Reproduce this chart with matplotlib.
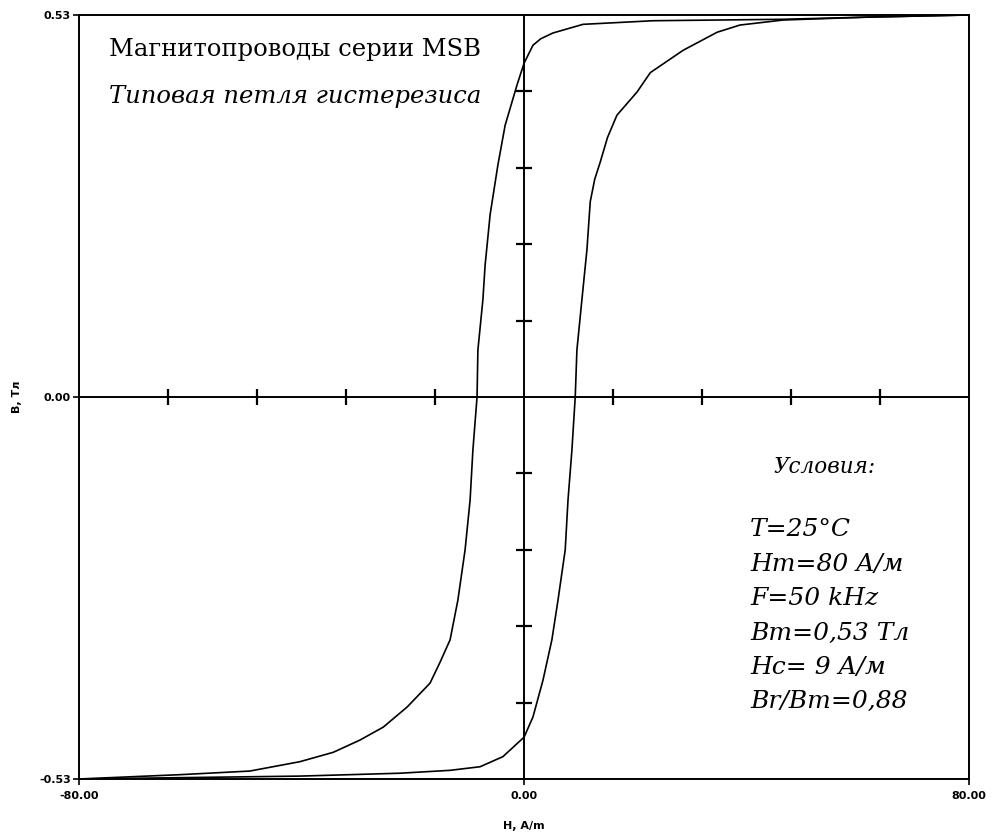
import numpy as np
import matplotlib
matplotlib.use("Agg")
import matplotlib.pyplot as plt

# --- data ---
# descending branch (from +Hm down to -Hm)
h_down = [80.0, 61.7, 46.6, 23.2, 10.6, 5.2, 3.0, 1.6, 0.0, -1.26, -3.4, -4.7, -6.1, -7.0, -7.4,
          -8.3, -8.45, -9.2, -9.7, -10.6, -11.9, -13.3, -15.1, -16.9, -21.0, -25.3, -29.5,
          -34.3, -40.3, -49.3, -61.8, -80.0]
b_down = [0.530, 0.527, 0.524, 0.522, 0.517, 0.505, 0.497, 0.488, 0.463, 0.433, 0.377, 0.322,
          0.253, 0.183, 0.135, 0.065, 0.0, -0.074, -0.143, -0.212, -0.282, -0.337, -0.368,
          -0.397, -0.430, -0.458, -0.476, -0.493, -0.506, -0.519, -0.524, -0.530]
# ascending branch (from -Hm up to +Hm)
h_up = [-80.0, -40.3, -22.3, -13.3, -7.9, -3.8, 0.0, 1.6, 3.4, 5.0, 6.1, 7.4, 7.9, 8.6, 9.2,
        9.5, 10.4, 11.3, 11.9, 12.7, 13.7, 15.0, 16.7, 20.3, 22.7, 28.6, 34.7, 38.8, 46.6,
        61.7, 80.0]
b_up = [-0.530, -0.526, -0.522, -0.518, -0.513, -0.499, -0.472, -0.444, -0.393, -0.337,
        -0.282, -0.212, -0.143, -0.074, 0.0, 0.065, 0.135, 0.204, 0.271, 0.302, 0.326, 0.360,
        0.391, 0.423, 0.450, 0.481, 0.506, 0.516, 0.523, 0.527, 0.530]

h_ticks = [-64, -48, -32, -16, 16, 32, 48, 64]
b_ticks = [-0.424, -0.318, -0.212, -0.106, 0.106, 0.212, 0.318, 0.424]
x_labels = ["-80.00", "0.00", "80.00"]
y_labels = ["-0.53", "0.00", "0.53"]

title1 = "Магнитопроводы серии MSB"
title2 = "Типовая петля гистерезиса"
cond_head = "Условия:"
cond_lines = ["T=25°C", "Hm=80 A/м", "F=50 kHz", "Bm=0,53 Тл", "Hc= 9 A/м", "Br/Bm=0,88"]

# --- figure ---
fig = plt.figure(figsize=(9.93, 8.36), dpi=100)
ax = fig.add_axes([0.0796, 0.0682, 0.8963, 0.9139])
ax.set_xlim(-80, 80)
ax.set_ylim(-0.53, 0.53)

for s in ax.spines.values():
    s.set_linewidth(1.4)

ax.axhline(0, color="k", lw=1.4)
ax.axvline(0, color="k", lw=1.4)

# ticks crossing the centre axes
ax.plot(h_ticks, [0] * len(h_ticks), ls="none", marker="|", ms=12, mew=1.6, color="k")
ax.plot([0] * len(b_ticks), b_ticks, ls="none", marker="_", ms=12, mew=1.6, color="k")

ax.plot(h_down, b_down, color="k", lw=1.2)
ax.plot(h_up, b_up, color="k", lw=1.2)

lab_font = ["Liberation Sans Narrow", "DejaVu Sans"]
ax.set_xticks([-80, 0, 80])
ax.set_xticklabels(x_labels, fontfamily=lab_font, fontweight="bold", fontsize=8)
ax.set_yticks([-0.53, 0, 0.53])
ax.set_yticklabels(y_labels, fontfamily=lab_font, fontweight="bold", fontsize=8)
ax.tick_params(axis="x", direction="out", length=4, width=1.2, pad=5)
ax.tick_params(axis="y", direction="out", length=4, width=1.2, pad=2)

ax.set_xlabel("H, A/m", fontfamily=lab_font, fontweight="bold", fontsize=8, labelpad=14)
ax.set_ylabel("B, Тл", fontfamily=lab_font, fontweight="bold", fontsize=8, labelpad=12)

serif = ["DejaVu Serif"]
ax.text(0.034, 0.955, title1, transform=ax.transAxes, fontfamily=serif, fontsize=17.5,
        va="center", ha="left")
ax.text(0.034, 0.893, title2, transform=ax.transAxes, fontfamily=serif, fontsize=17.5,
        style="italic", va="center", ha="left")

ax.text(0.78, 0.408, cond_head, transform=ax.transAxes, fontfamily=serif, fontsize=15.5,
        style="italic", va="center", ha="left")
for i, line in enumerate(cond_lines):
    ax.text(0.754, 0.326 - i * 0.045, line, transform=ax.transAxes, fontfamily=serif,
            fontsize=18, style="italic", va="center", ha="left")

fig.savefig("out.png", dpi=100)
